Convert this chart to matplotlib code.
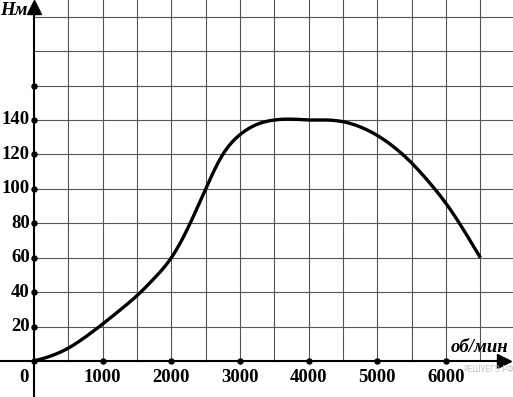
import numpy as np
import matplotlib
matplotlib.use("Agg")
import matplotlib.pyplot as plt

# Data (rpm, torque in N*m)
rpm = [0, 250, 500, 750, 1000, 1250, 1500, 1750, 2000, 2250, 2500, 2750,
       3000, 3250, 3500, 3750, 4000, 4250, 4500, 4750, 5000, 5250, 5500,
       5750, 6000, 6250, 6500]
torque = [0, 3, 7.5, 14, 21.5, 29.5, 38, 48, 60, 78, 100, 120,
          131.5, 137.5, 140, 140.5, 140, 140, 139, 136, 131, 124, 115,
          104, 91.5, 76.5, 60]
x_ticks = [1000, 2000, 3000, 4000, 5000, 6000]
x_tick_labels = ["1000", "2000", "3000", "4000", "5000", "6000"]
y_ticks = [20, 40, 60, 80, 100, 120, 140]
y_tick_labels = ["20", "40", "60", "80", "100", "120", "140"]
y_extra_dot = [160]
y_label = "Нм"
x_label = "об/мин"
watermark = "РЕШУЕГЭ.РФ"

W, H = 513, 397
fig = plt.figure(figsize=(W / 100, H / 100), dpi=100)
ax = fig.add_axes([0, 0, 1, 1])
XMIN, XMAX = -495, 6975
YMIN, YMAX = -20.9, 209.7
ax.set_xlim(XMIN, XMAX)
ax.set_ylim(YMIN, YMAX)
ax.axis("off")

font = "Liberation Serif"
grid_c = "#555555"
# grid
for gx in np.arange(500, 6501, 500):
    ax.plot([gx, gx], [0, YMAX], color=grid_c, lw=0.8, zorder=1)
for gy in np.arange(20, 201, 20):
    ax.plot([0, XMAX], [gy, gy], color=grid_c, lw=0.8, zorder=1)

# axes
ax.plot([0, 0], [YMIN, YMAX - 8], color="black", lw=1.5, zorder=3)
ax.plot([XMIN, 6800], [0, 0], color="black", lw=1.5, zorder=3)
ax.plot([0], [YMAX - 7 / 1.7214], marker="^", ms=10, color="black", zorder=4, clip_on=False)
ax.plot([(504 - 34) / 0.06867], [0], marker=">", ms=10, color="black", zorder=4, clip_on=False)

# tick dots
ax.plot(x_ticks + [0], [0] * (len(x_ticks) + 1), "o", ms=3.6, color="black", zorder=5)
ax.plot([0] * (len(y_ticks) + len(y_extra_dot)), y_ticks + y_extra_dot, "o", ms=3.6,
        color="black", zorder=5)

# smooth curve: natural cubic spline through the read points
xs = np.array(rpm, float)
ys = np.array(torque, float)
n = len(xs)
h = np.diff(xs)
A = np.zeros((n, n))
b = np.zeros(n)
A[0, 0] = 1
A[-1, -1] = 1
for i in range(1, n - 1):
    A[i, i - 1] = h[i - 1]
    A[i, i] = 2 * (h[i - 1] + h[i])
    A[i, i + 1] = h[i]
    b[i] = 6 * ((ys[i + 1] - ys[i]) / h[i] - (ys[i] - ys[i - 1]) / h[i - 1])
M = np.linalg.solve(A, b)
cx, cy = [], []
for i in range(n - 1):
    t = np.linspace(xs[i], xs[i + 1], 30)
    a = xs[i + 1] - t
    c = t - xs[i]
    s = (M[i] * a**3 + M[i + 1] * c**3) / (6 * h[i]) \
        + (ys[i] / h[i] - M[i] * h[i] / 6) * a \
        + (ys[i + 1] / h[i] - M[i + 1] * h[i] / 6) * c
    cx.extend(t)
    cy.extend(s)
ax.plot(cx, cy, color="black", lw=2.4, solid_capstyle="butt", zorder=6)

fs = 13.5
for v, lab in zip(x_ticks, x_tick_labels):
    ax.annotate(lab, xy=(v, 0), xytext=(0, -8), textcoords="offset pixels",
                ha="center", va="top", fontsize=fs, fontweight="bold", family=font)
ax.annotate("0", xy=(0, 0), xytext=(-10, -8), textcoords="offset pixels",
            ha="center", va="top", fontsize=fs, fontweight="bold", family=font)
for v, lab in zip(y_ticks, y_tick_labels):
    ax.annotate(lab, xy=(0, v), xytext=(-4, 0), textcoords="offset pixels",
                ha="right", va="center", fontsize=fs, fontweight="bold", family=font)

fig.text(28 / W, 1 - 15 / H, y_label, ha="right", va="baseline", fontsize=fs,
         fontweight="bold", fontstyle="italic", family=font)
fig.text(508 / W, 1 - 352 / H, x_label, ha="right", va="baseline", fontsize=fs,
         fontweight="bold", fontstyle="italic", family=font)
fig.text(488 / W, 1 - 370 / H, watermark, ha="center", va="center", fontsize=5.5,
         color="#c0c0c0", family="DejaVu Sans")

fig.savefig("out.png", dpi=100)
